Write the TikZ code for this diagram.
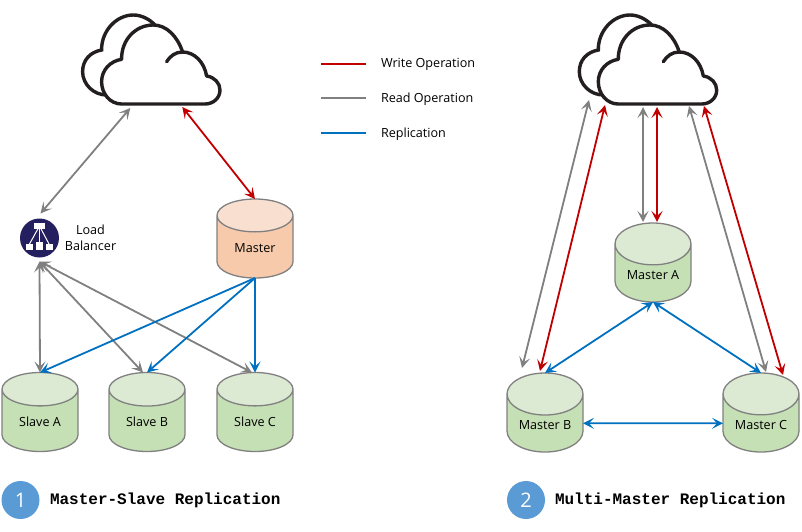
\documentclass[tikz,border=0pt]{standalone}
\usepackage{fontspec}
\setmainfont{Open Sans}
\newfontfamily\titlefont{Liberation Mono}
\newfontfamily\badgefont{Open Sans}
\usepackage{xcolor}
\usetikzlibrary{arrows.meta,shapes.geometric}

\definecolor{wrRed}{HTML}{C00000}
\definecolor{rdGray}{HTML}{808080}
\definecolor{repBlue}{HTML}{0070C0}
\definecolor{inkDark}{HTML}{231F20}
\definecolor{lbNavy}{HTML}{24205F}
\definecolor{badgeBlue}{HTML}{5B9BD5}
\definecolor{greenTop}{HTML}{DCE9D3}
\definecolor{greenBody}{HTML}{C5E0B4}
\definecolor{peachTop}{HTML}{F8DFCF}
\definecolor{peachBody}{HTML}{F7CAAC}

\begin{document}
\begin{tikzpicture}[x=1pt, y=-1pt, >={Stealth[length=11pt,width=11pt,inset=5pt]},
    every node/.style={inner sep=0pt, outer sep=0pt},
    label/.style={font=\fontsize{12.6}{16}\selectfont, align=center},
    title/.style={font=\fontsize{16}{18}\selectfont\titlefont\bfseries, anchor=west},
    badge/.style={circle, fill=badgeBlue, minimum size=38pt, text=white, font=\fontsize{20}{22}\selectfont\badgefont},
    db/.style={cylinder, anchor=shape center, shape border rotate=90, cylinder uses custom fill, shape aspect=0.8,
      draw=rdGray, line width=1.3pt, minimum width=76pt, minimum height=79pt, text height=12pt, label},
    slave/.style={db, cylinder end fill=greenTop, cylinder body fill=greenBody},
    master/.style={db, cylinder end fill=peachTop, cylinder body fill=peachBody},
    write/.style={<->, wrRed, line width=1.8pt},
    read/.style={<->, rdGray, line width=1.8pt},
    repl/.style={<->, repBlue, line width=1.8pt},
    replOne/.style={->, repBlue, line width=1.8pt},
    cloudicon/.pic={
      \node[minimum width=84pt, minimum height=60pt, anchor=south] (-box) at (0,0) {};
      \draw[inkDark, line width=3.4pt, fill=white, line cap=round]
        (-8.3,-79) .. controls (-14,-85) and (-22,-89) .. (-30,-89)
        .. controls (-47,-89) and (-62,-73) .. (-61.7,-54)
        .. controls (-73,-52) and (-80.7,-44) .. (-80.7,-32.3)
        .. controls (-80.7,-20) and (-70,-9) .. (-56.6,-9);
      \draw[inkDark, line width=3.4pt, fill=white, line join=round]
        (-41.7,0) -- (41.7,0)
        .. controls (50,0) and (56.7,-6) .. (56.7,-14)
        .. controls (56.7,-21) and (51,-27) .. (43.3,-28)
        .. controls (41,-42) and (31,-52) .. (19.3,-52)
        .. controls (14,-68) and (3,-79) .. (-10,-79)
        .. controls (-28,-79) and (-42,-64) .. (-41.7,-44.7)
        .. controls (-53,-43) and (-61.7,-34) .. (-61.7,-22.3)
        .. controls (-61.7,-10) and (-53,0) .. (-41.7,0) -- cycle;
      \draw[inkDark, line width=3.4pt, line cap=round]
        (3.3,-42.3) .. controls (7,-48) and (12,-52) .. (19.3,-52);
    }]

    % clouds
    \pic (cloudL) at (163.3,104) {cloudicon};
    \pic (cloudR) at (660,104) {cloudicon};

    % legend
    \coordinate (wrA) at (321,64);
    \coordinate (wrB) at (366,64);
    \coordinate (rdA) at (321,98);
    \coordinate (rdB) at (366,98);
    \coordinate (reA) at (321,133);
    \coordinate (reB) at (366,133);
    \node[label, anchor=west] (wrText) at (381,64.5) {Write Operation};
    \node[label, anchor=west] (rdText) at (381,99) {Read Operation};
    \node[label, anchor=west] (reText) at (381,134) {Replication};
    \draw[wrRed, line width=2pt] (wrA) -- (wrB);
    \draw[rdGray, line width=2pt] (rdA) -- (rdB);
    \draw[repBlue, line width=2pt] (reA) -- (reB);

    % master-slave side
    \node[circle, fill=lbNavy, minimum size=39pt] (lb) at (39.5,238) {};
    \node[label] (lbText) at (90.5,237.5) {Load\\Balancer};
    \node[fill=white, minimum width=11pt, minimum height=6pt] (lbTop) at (39.5,226) {};
    \node[fill=white, minimum width=7pt, minimum height=6pt] (lbOne) at (29.5,247) {};
    \node[fill=white, minimum width=7pt, minimum height=8.5pt] (lbTwo) at (39.5,246) {};
    \node[fill=white, minimum width=7pt, minimum height=6pt] (lbThree) at (49,247) {};
    \draw[white, line width=1pt] (lbTop) -- (lbOne.north);
    \draw[white, line width=1pt] (lbTop) -- (lbTwo.north);
    \draw[white, line width=1pt] (lbTop) -- (lbThree.north);

    \node[master] (master) at (255,238.5) {Master};
    \node[slave] (slaveA) at (40,412) {Slave A};
    \node[slave] (slaveB) at (147,412) {Slave B};
    \node[slave] (slaveC) at (255,412) {Slave C};

    \draw[read] ([xshift=-33pt,yshift=-4pt]cloudL-box.south) -- ([xshift=1pt,yshift=5pt]lb.north);
    \draw[write] ([xshift=19pt,yshift=-3pt]cloudL-box.south) -- (master.north);

    \draw[read] ([yshift=-4pt]lb.south) -- (slaveA.north);
    \draw[read] ([yshift=-4pt]lb.south) -- ([xshift=-4pt]slaveB.north);
    \draw[read] ([yshift=-4pt]lb.south) -- ([xshift=-3pt]slaveC.north);
    \draw[replOne] (master.south) -- (slaveA.north);
    \draw[replOne] (master.south) -- (slaveB.north);
    \draw[replOne] (master.south) -- (slaveC.north);

    % multi-master side
    \node[slave] (masterA) at (653,262.5) {Master A};
    \node[slave] (masterB) at (545,412.5) {Master B};
    \node[slave] (masterC) at (761,412.5) {Master C};

    \draw[read] ([xshift=-71pt,yshift=4pt]cloudR-box.south) -- ([xshift=-23pt,yshift=5pt]masterB.north);
    \draw[write] ([xshift=-55pt,yshift=-1pt]cloudR-box.south) -- ([xshift=-5pt,yshift=2pt]masterB.north);
    \draw[read] ([xshift=-17pt,yshift=-3pt]cloudR-box.south) -- ([xshift=-10pt,yshift=1pt]masterA.north);
    \draw[write] ([xshift=-3pt,yshift=-3pt]cloudR-box.south) -- ([xshift=4pt,yshift=1pt]masterA.north);
    \draw[read] ([xshift=29pt,yshift=-2pt]cloudR-box.south) -- ([xshift=5pt,yshift=1pt]masterC.north);
    \draw[write] ([xshift=44pt,yshift=-2pt]cloudR-box.south) -- ([xshift=22pt,yshift=-2pt]masterC.north);

    \draw[repl] (masterA.south) -- (masterB.north);
    \draw[repl] (masterA.south) -- (masterC.north);
    \draw[repl] (masterB.east) -- (masterC.west);

    % captions
    \node[badge] (badgeOne) at (20.5,500) {1};
    \node[title] (titleOne) at (50,500.5) {Master-Slave Replication};
    \node[badge] (badgeTwo) at (526,500) {2};
    \node[title] (titleTwo) at (555,500.5) {Multi-Master Replication};

    \useasboundingbox (0,0) rectangle (802,531);
  \end{tikzpicture}
\end{document}
